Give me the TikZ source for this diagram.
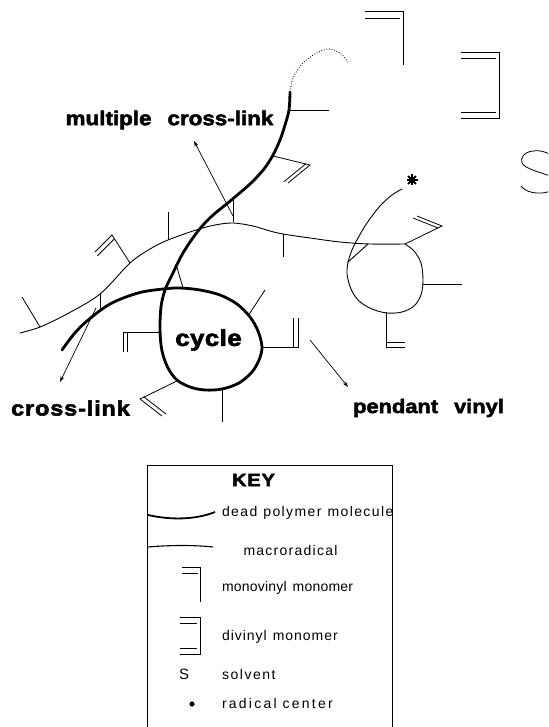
\documentclass[tikz,border=0pt]{standalone}
\usepackage{fontspec}
\setmainfont{Liberation Sans}
\newfontfamily\heavy[FakeBold=2.5, FakeStretch=1.12]{Liberation Sans Bold}
\usetikzlibrary{calc,arrows.meta}

% bold label text: size, letter spacing, text
\newcommand\biglabel[3]{{\heavy\fontsize{#1}{#1}\selectfont\addfontfeature{LetterSpace=#2}#3}}
% key text: letter spacing, text
\newcommand\keylabel[2]{{\fontsize{14}{14}\selectfont\addfontfeature{LetterSpace=#1}#2}}
\newcommand\wgap{\hspace{6pt}}

\tikzset{
  deadchain/.style={line width=2.8pt, line cap=round, line join=round},
  radchain/.style={line width=0.9pt, line cap=round, line join=round},
  stub/.style={line width=0.8pt},
  pointer/.style={line width=0.7pt, -{Stealth[length=6pt,width=4pt]}},
  keybox/.style={line width=1pt},
  lbl/.style={inner sep=0pt, outer sep=0pt},
}

% pendant group: attachment point, corner, end of the double bond
\newcommand\vinyl[3]{%
  \draw[stub] (#1) -- (#2) -- (#3);
  \draw[stub] ($(#2)!4.5pt!(#1)$) -- ++($(#3)-(#2)$);}

\begin{document}
\begin{tikzpicture}[x=1pt,y=-1pt]
\useasboundingbox (0,0) rectangle (548,727);
\clip (0,0) rectangle (548,727);

% ---- free monomers and solvent ----
\draw[stub] (365,11) -- (403,11) -- (403,65);
\draw[stub] (365,18) -- (400,18);
\draw[stub] (461,52) -- (499,52) -- (499,118) -- (461,118);
\draw[stub] (461,58) -- (496,58);
\draw[stub] (461,112) -- (496,112);
\draw[line width=0.8pt] (552,156) .. controls (546,151) and (538,150) .. (533,151)
  .. controls (524,152) and (520,158) .. (522,163)
  .. controls (525,169) and (540,172) .. (550,176)
  .. controls (560,181) and (556,194) .. (538,193)
  .. controls (530,193) and (524,190) .. (521,186);

% ---- dead polymer molecule with its cycle ----
\draw[deadchain] plot[smooth, tension=0.55] coordinates {
  (62,350) (74,334) (87,321) (110,304) (138,293) (163,289) (180,288)
  (200,290) (220,295) (237,304) (250,317) (258,331) (262,347) (259,360)
  (252,372) (239,383) (222,389) (205,390) (190,387) (177,380) (168,368)
  (162,351) (160,330) (161,307) (165,290) (172,275) (183,253) (198,231)
  (212,216) (229,202) (250,184) (264,169) (273,155) (280,140) (285,125)
  (289,110) (290,92)};
\draw[line width=0.9pt, dash pattern=on 0.8pt off 1.8pt] plot[smooth] coordinates {
  (290,92) (293,78) (302,64) (315,54) (328,49) (340,53) (348,62)};

% ---- macroradical ----
\draw[radchain] plot[smooth, tension=0.55] coordinates {
  (20,333) (40,327) (67,314) (100,294) (130,263) (150,249) (168,240)
  (196,230) (215,225) (233,223) (253,226) (270,231) (283,234) (310,238)
  (340,242) (370,244) (405,244)};
\draw[radchain] plot[smooth, tension=0.55] coordinates {
  (405,244) (414,251) (421,263) (423,280) (421,295) (414,306) (402,312)
  (387,313) (372,309) (359,301) (351,289) (347,274) (348,262)};
\draw[radchain] (348,262) -- (368,244);
\draw[radchain] plot[smooth, tension=0.55] coordinates {
  (348,262) (352,250) (358,238) (367,223) (380,206) (392,195) (402,189)};
% radical center
\coordinate (star) at (412,180);
\foreach \a in {0,45,90,135}
  \draw[line width=2pt] (star) ++(\a:5.5) -- ++(\a+180:11);
\fill (star) circle (3.2);

% ---- side groups ----
\draw[stub] (290,110) -- (329,110);
\vinyl{273,156}{310,165}{288,183}
\draw[stub] (233,222) -- (233,200);
\draw[stub] (168,240) -- (168,212);
\vinyl{130,263}{112,235}{95,252}
\draw[stub] (40,327) -- (22,297);
\draw[stub] (100,294) -- (100,309);
\draw[stub] (283,234) -- (283,257);
\draw[stub] (176,264) -- (183,288);
\draw[stub] (248,316) -- (265,290);
\vinyl{262,347}{298,347}{298,318}
\vinyl{160,332}{123,332}{123,352}
\vinyl{177,381}{140,399}{162,416}
\draw[stub] (222,389) -- (222,422);
\vinyl{405,244}{442,226}{417,216}
\draw[stub] (423,284) -- (462,284);
\vinyl{386,312}{386,347}{405,347}

% ---- labels and pointers ----
\node[lbl] (mcl) at (169.5,120) {\biglabel{20}{0}{multiple\hspace{16pt}cross-link}};
\node[lbl] (cl) at (70.5,408) {\biglabel{21}{4}{cross-link}};
\node[lbl] (pv) at (428.5,408) {\biglabel{19.5}{0}{pendant\hspace{16pt}vinyl}};
\node[lbl] (cyc) at (208.5,340) {\biglabel{23}{2}{cycle}};
\coordinate (mclfrom) at (233,216);
\coordinate (mclto) at (194,141);
\coordinate (clfrom) at (96,308);
\coordinate (clto) at (60,382);
\coordinate (pvfrom) at (310,340);
\coordinate (pvto) at (348,387);
\draw[pointer] (mclfrom) -- (mclto);
\draw[pointer] (clfrom) -- (clto);
\draw[pointer] (pvfrom) -- (pvto);

% ---- key ----
\draw[keybox] (147,740) -- (147,465) -- (392,465) -- (392,740);
\node[lbl] (key) at (253.5,480) {\biglabel{18}{4}{KEY}};
\draw[line width=1.8pt] (148,515) .. controls (170,520) and (195,520) .. (215,512);
\node[lbl, anchor=west] (kdead) at (222,513) {\keylabel{10}{dead\wgap polymer\wgap molecule}};
\draw[line width=1.1pt] (148,547) .. controls (170,545) and (195,545) .. (213,547);
\node[lbl] (kmacro) at (290.5,550) {\keylabel{9}{macroradical}};
\draw[stub] (182,567) -- (200,567) -- (200,602);
\draw[stub] (182,573) -- (198,573);
\node[lbl, anchor=west] (kmono) at (222,588) {\keylabel{1.5}{monovinyl\wgap monomer}};
\draw[stub] (180,617) -- (200,617) -- (200,654) -- (180,654);
\draw[stub] (180,623) -- (197,623);
\draw[stub] (180,648) -- (197,648);
\node[lbl, anchor=west] (kdi) at (222,637) {\keylabel{7}{divinyl\wgap monomer}};
\node[lbl] (ks) at (184,674) {\fontsize{15}{15}\selectfont S};
\node[lbl, anchor=west] (ksolv) at (222,674) {\keylabel{11}{solvent}};
\fill (192,704) circle (2.6);
\node[lbl, anchor=west] (krad) at (222,703) {\keylabel{16}{radical\wgap center}};
\end{tikzpicture}
\end{document}
